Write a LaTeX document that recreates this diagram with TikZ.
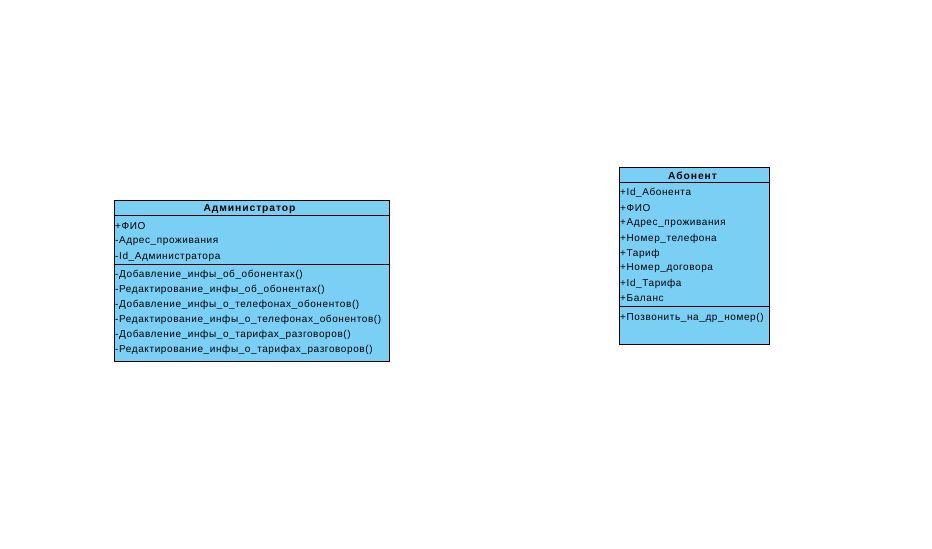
\documentclass[tikz,border=0pt]{standalone}
\usepackage{fontspec}
\setmainfont[LetterSpace=6]{Liberation Sans}
\newfontfamily\ttlfont[LetterSpace=9]{Liberation Sans}
\definecolor{umlfill}{RGB}{122,207,245}
\begin{document}
\begin{tikzpicture}[x=1pt,y=-1pt,
  cls/.style={draw=black,line width=0.8pt,fill=umlfill},
  sep/.style={draw=black,line width=0.8pt},
  ttl/.style={font=\ttlfont\fontsize{10.3}{11}\selectfont\bfseries,inner sep=0pt},
  itm/.style={font=\fontsize{10}{11}\selectfont,anchor=west,inner sep=0pt}]
\useasboundingbox (0,0) rectangle (932,549);
% Administrator
\path[cls] (114.3,200) rectangle (389.3,361.7);
\coordinate (aL1) at (114.3,215.5); \coordinate (aR1) at (389.3,215.5);
\coordinate (aL2) at (114.3,264.5); \coordinate (aR2) at (389.3,264.5);
\draw[sep] (aL1) -- (aR1);
\draw[sep] (aL2) -- (aR2);
\node[ttl] (atitle) at (249.5,209) {Администратор};
\node[itm] (a1) at (115,226.5) {+ФИО};
\node[itm] (a2) at (115,241.5) {-Адрес\_проживания};
\node[itm] (a3) at (115,256.5) {-Id\_Администратора};
\node[itm] (m1) at (115,275) {-Добавление\_инфы\_об\_обонентах()};
\node[itm] (m2) at (115,290) {-Редактирование\_инфы\_об\_обонентах()};
\node[itm] (m3) at (115,305) {-Добавление\_инфы\_о\_телефонах\_обонентов()};
\node[itm] (m4) at (115,320) {-Редактирование\_инфы\_о\_телефонах\_обонентов()};
\node[itm] (m5) at (115,335) {-Добавление\_инфы\_о\_тарифах\_разговоров()};
\node[itm] (m6) at (115,350) {-Редактирование\_инфы\_о\_тарифах\_разговоров()};
% Abonent
\path[cls] (619.3,167) rectangle (769.3,344.3);
\coordinate (bL1) at (619.3,182); \coordinate (bR1) at (769.3,182);
\coordinate (bL2) at (619.3,306.3); \coordinate (bR2) at (769.3,306.3);
\draw[sep] (bL1) -- (bR1);
\draw[sep] (bL2) -- (bR2);
\node[ttl] (btitle) at (692.5,176) {Абонент};
\node[itm] (b1) at (620,193) {+Id\_Абонента};
\node[itm] (b2) at (620,208) {+ФИО};
\node[itm] (b3) at (620,223.5) {+Адрес\_проживания};
\node[itm] (b4) at (620,238.5) {+Номер\_телефона};
\node[itm] (b5) at (620,253.5) {+Тариф};
\node[itm] (b6) at (620,268.5) {+Номер\_договора};
\node[itm] (b7) at (620,283.5) {+Id\_Тарифа};
\node[itm] (b8) at (620,298.5) {+Баланс};
\node[itm] (bm1) at (620,317.5) {+Позвонить\_на\_др\_номер()};
\end{tikzpicture}
\end{document}
